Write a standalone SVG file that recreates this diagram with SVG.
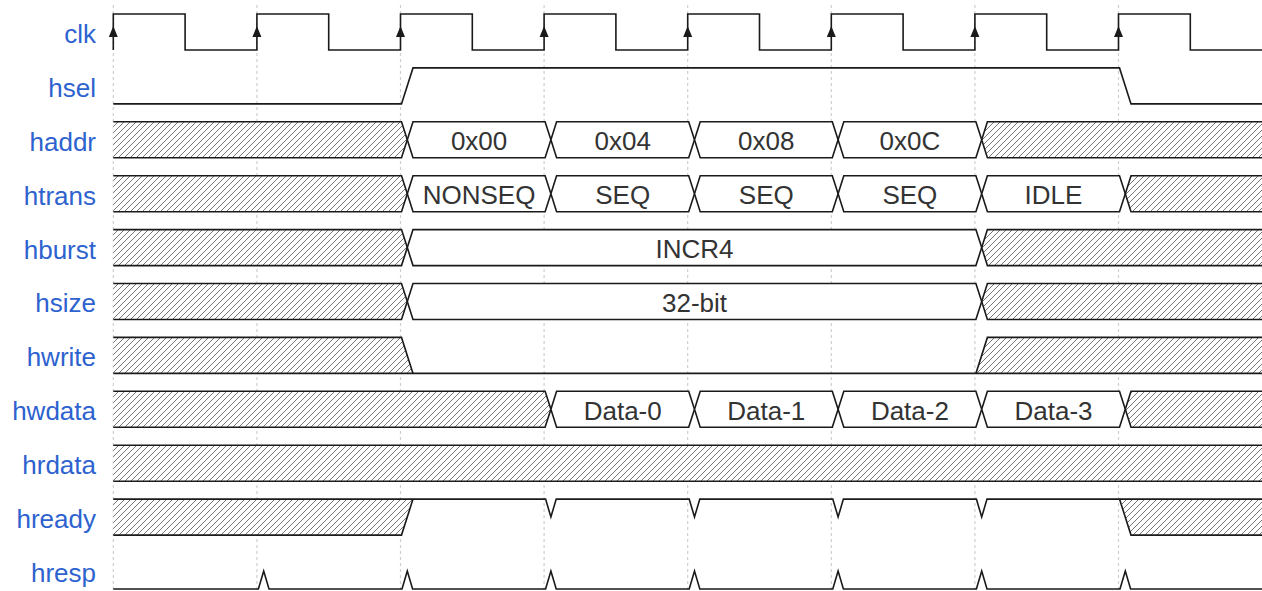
<svg xmlns="http://www.w3.org/2000/svg" width="1262" height="591" viewBox="0 0 1262 591">
<style>
.w{fill:none;stroke:#1a1a1a;stroke-width:1.6;stroke-linejoin:miter}
.b{fill:#fff;stroke:#1a1a1a;stroke-width:1.6}
.h{fill:url(#hatch);stroke:none}
.g{stroke:#cfcfcf;stroke-width:1.2;stroke-dasharray:3,3}
.lbl{font-family:"Liberation Sans",Arial,sans-serif;font-size:26px;fill:#2d62cf;text-anchor:end}
.val{font-family:"Liberation Sans",Arial,sans-serif;font-size:26px;fill:#333;text-anchor:middle}
.ar{fill:#1a1a1a}
</style>
<defs>
<pattern id="hatch" patternUnits="userSpaceOnUse" width="6" height="6">
<rect width="6" height="6" fill="#fff"/>
<path d="M-1,1 L1,-1 M0,6 L6,0 M5,7 L7,5" stroke="#666" stroke-width="0.9"/>
</pattern>
</defs>
<rect width="1262" height="591" fill="#fff"/>
<g id="grid">
<line class="g" x1="113.3" y1="5" x2="113.3" y2="591"/>
<line class="g" x1="256.9" y1="5" x2="256.9" y2="591"/>
<line class="g" x1="400.5" y1="5" x2="400.5" y2="591"/>
<line class="g" x1="544.1" y1="5" x2="544.1" y2="591"/>
<line class="g" x1="687.7" y1="5" x2="687.7" y2="591"/>
<line class="g" x1="831.3" y1="5" x2="831.3" y2="591"/>
<line class="g" x1="974.9" y1="5" x2="974.9" y2="591"/>
<line class="g" x1="1118.5" y1="5" x2="1118.5" y2="591"/>
</g>
<g id="labels">
<text class="lbl" x="96" y="43">clk</text>
<text class="lbl" x="96" y="96.8">hsel</text>
<text class="lbl" x="96" y="150.7">haddr</text>
<text class="lbl" x="96" y="204.6">htrans</text>
<text class="lbl" x="96" y="258.5">hburst</text>
<text class="lbl" x="96" y="312.4">hsize</text>
<text class="lbl" x="96" y="366.3">hwrite</text>
<text class="lbl" x="96" y="420.2">hwdata</text>
<text class="lbl" x="96" y="474.1">hrdata</text>
<text class="lbl" x="96" y="528">hready</text>
<text class="lbl" x="96" y="581.9">hresp</text>
</g>
<g id="clk">
<path class="w" d="M113.3,50 L113.3,14 L185.1,14 L185.1,50 L256.9,50 L256.9,14 L328.7,14 L328.7,50 L400.5,50 L400.5,14 L472.3,14 L472.3,50 L544.1,50 L544.1,14 L615.9,14 L615.9,50 L687.7,50 L687.7,14 L759.5,14 L759.5,50 L831.3,50 L831.3,14 L903.1,14 L903.1,50 L974.9,50 L974.9,14 L1046.7,14 L1046.7,50 L1118.5,50 L1118.5,14 L1190.3,14 L1190.3,50 L1262,50"/>
<path class="ar" d="M113.3,26 L108.8,37 L117.8,37 Z M256.9,26 L252.4,37 L261.4,37 Z M400.5,26 L396,37 L405,37 Z M544.1,26 L539.6,37 L548.6,37 Z M687.7,26 L683.2,37 L692.2,37 Z M831.3,26 L826.8,37 L835.8,37 Z M974.9,26 L970.4,37 L979.4,37 Z M1118.5,26 L1114,37 L1123,37 Z"/>
</g>
<g id="hsel">
<path class="w" d="M113.3,103.9 L401.5,103.9 L413,67.9 L1119.5,67.9 L1131,103.9 L1262,103.9"/>
</g>
<g id="haddr">
<path class="h" d="M113.3,121.8 L401.5,121.8 L407.3,139.8 L401.5,157.8 L113.3,157.8 Z"/>
<path class="w" d="M113.3,121.8 L401.5,121.8 L407.3,139.8 L401.5,157.8 L113.3,157.8"/>
<path class="b" d="M407.3,139.8 L413,121.8 L545.1,121.8 L550.9,139.8 L545.1,157.8 L413,157.8 Z"/>
<path class="b" d="M550.9,139.8 L556.6,121.8 L688.7,121.8 L694.5,139.8 L688.7,157.8 L556.6,157.8 Z"/>
<path class="b" d="M694.5,139.8 L700.2,121.8 L832.3,121.8 L838.1,139.8 L832.3,157.8 L700.2,157.8 Z"/>
<path class="b" d="M838.1,139.8 L843.8,121.8 L975.9,121.8 L981.7,139.8 L975.9,157.8 L843.8,157.8 Z"/>
<path class="h" d="M1262,121.8 L987.4,121.8 L981.7,139.8 L987.4,157.8 L1262,157.8 Z"/>
<path class="w" d="M1262,121.8 L987.4,121.8 L981.7,139.8 L987.4,157.8 L1262,157.8"/>
<text class="val" x="479.1" y="150.3">0x00</text>
<text class="val" x="622.7" y="150.3">0x04</text>
<text class="val" x="766.3" y="150.3">0x08</text>
<text class="val" x="909.9" y="150.3">0x0C</text>
</g>
<g id="htrans">
<path class="h" d="M113.3,175.7 L401.5,175.7 L407.3,193.7 L401.5,211.7 L113.3,211.7 Z"/>
<path class="w" d="M113.3,175.7 L401.5,175.7 L407.3,193.7 L401.5,211.7 L113.3,211.7"/>
<path class="b" d="M407.3,193.7 L413,175.7 L545.1,175.7 L550.9,193.7 L545.1,211.7 L413,211.7 Z"/>
<path class="b" d="M550.9,193.7 L556.6,175.7 L688.7,175.7 L694.5,193.7 L688.7,211.7 L556.6,211.7 Z"/>
<path class="b" d="M694.5,193.7 L700.2,175.7 L832.3,175.7 L838.1,193.7 L832.3,211.7 L700.2,211.7 Z"/>
<path class="b" d="M838.1,193.7 L843.8,175.7 L975.9,175.7 L981.7,193.7 L975.9,211.7 L843.8,211.7 Z"/>
<path class="b" d="M981.7,193.7 L987.4,175.7 L1119.5,175.7 L1125.3,193.7 L1119.5,211.7 L987.4,211.7 Z"/>
<path class="h" d="M1262,175.7 L1131,175.7 L1125.3,193.7 L1131,211.7 L1262,211.7 Z"/>
<path class="w" d="M1262,175.7 L1131,175.7 L1125.3,193.7 L1131,211.7 L1262,211.7"/>
<text class="val" x="479.1" y="204.2">NONSEQ</text>
<text class="val" x="622.7" y="204.2">SEQ</text>
<text class="val" x="766.3" y="204.2">SEQ</text>
<text class="val" x="909.9" y="204.2">SEQ</text>
<text class="val" x="1053.5" y="204.2">IDLE</text>
</g>
<g id="hburst">
<path class="h" d="M113.3,229.6 L401.5,229.6 L407.3,247.6 L401.5,265.6 L113.3,265.6 Z"/>
<path class="w" d="M113.3,229.6 L401.5,229.6 L407.3,247.6 L401.5,265.6 L113.3,265.6"/>
<path class="b" d="M407.3,247.6 L413,229.6 L975.9,229.6 L981.7,247.6 L975.9,265.6 L413,265.6 Z"/>
<path class="h" d="M1262,229.6 L987.4,229.6 L981.7,247.6 L987.4,265.6 L1262,265.6 Z"/>
<path class="w" d="M1262,229.6 L987.4,229.6 L981.7,247.6 L987.4,265.6 L1262,265.6"/>
<text class="val" x="694.5" y="258.1">INCR4</text>
</g>
<g id="hsize">
<path class="h" d="M113.3,283.5 L401.5,283.5 L407.3,301.5 L401.5,319.5 L113.3,319.5 Z"/>
<path class="w" d="M113.3,283.5 L401.5,283.5 L407.3,301.5 L401.5,319.5 L113.3,319.5"/>
<path class="b" d="M407.3,301.5 L413,283.5 L975.9,283.5 L981.7,301.5 L975.9,319.5 L413,319.5 Z"/>
<path class="h" d="M1262,283.5 L987.4,283.5 L981.7,301.5 L987.4,319.5 L1262,319.5 Z"/>
<path class="w" d="M1262,283.5 L987.4,283.5 L981.7,301.5 L987.4,319.5 L1262,319.5"/>
<text class="val" x="694.5" y="312">32-bit</text>
</g>
<g id="hwrite">
<path class="h" d="M113.3,337.4 L401.5,337.4 L413,373.4 L113.3,373.4 Z"/>
<path class="h" d="M975.9,373.4 L987.4,337.4 L1262,337.4 L1262,373.4 Z"/>
<path class="w" d="M113.3,337.4 L401.5,337.4 L413,373.4"/>
<path class="w" d="M113.3,373.4 L1262,373.4"/>
<path class="w" d="M975.9,373.4 L987.4,337.4 L1262,337.4"/>
</g>
<g id="hwdata">
<path class="h" d="M113.3,391.3 L545.1,391.3 L550.9,409.3 L545.1,427.3 L113.3,427.3 Z"/>
<path class="w" d="M113.3,391.3 L545.1,391.3 L550.9,409.3 L545.1,427.3 L113.3,427.3"/>
<path class="b" d="M550.9,409.3 L556.6,391.3 L688.7,391.3 L694.5,409.3 L688.7,427.3 L556.6,427.3 Z"/>
<path class="b" d="M694.5,409.3 L700.2,391.3 L832.3,391.3 L838.1,409.3 L832.3,427.3 L700.2,427.3 Z"/>
<path class="b" d="M838.1,409.3 L843.8,391.3 L975.9,391.3 L981.7,409.3 L975.9,427.3 L843.8,427.3 Z"/>
<path class="b" d="M981.7,409.3 L987.4,391.3 L1119.5,391.3 L1125.3,409.3 L1119.5,427.3 L987.4,427.3 Z"/>
<path class="h" d="M1262,391.3 L1131,391.3 L1125.3,409.3 L1131,427.3 L1262,427.3 Z"/>
<path class="w" d="M1262,391.3 L1131,391.3 L1125.3,409.3 L1131,427.3 L1262,427.3"/>
<text class="val" x="622.7" y="419.8">Data-0</text>
<text class="val" x="766.3" y="419.8">Data-1</text>
<text class="val" x="909.9" y="419.8">Data-2</text>
<text class="val" x="1053.5" y="419.8">Data-3</text>
</g>
<g id="hrdata">
<rect class="h" x="113.3" y="445.2" width="1148.7" height="36"/>
<path class="w" d="M113.3,445.2 L1262,445.2 M113.3,481.2 L1262,481.2"/>
</g>
<g id="hready">
<path class="h" d="M113.3,499.1 L413,499.1 L401.5,535.1 L113.3,535.1 Z"/>
<path class="h" d="M1119.5,499.1 L1262,499.1 L1262,535.1 L1131,535.1 Z"/>
<path class="w" d="M113.3,535.1 L401.5,535.1 L413,499.1"/>
<path class="w" d="M113.3,499.1 L545.6,499.1 L550.9,517 L556.2,499.1 L689.2,499.1 L694.5,517 L699.8,499.1 L832.8,499.1 L838.1,517 L843.4,499.1 L976.4,499.1 L981.7,517 L987,499.1 L1262,499.1"/>
<path class="w" d="M1119.5,499.1 L1131,535.1 L1262,535.1"/>
</g>
<g id="hresp">
<path class="w" d="M113.3,589 L258.4,589 L263.7,571 L269,589 L402,589 L407.3,571 L412.6,589 L545.6,589 L550.9,571 L556.2,589 L689.2,589 L694.5,571 L699.8,589 L832.8,589 L838.1,571 L843.4,589 L976.4,589 L981.7,571 L987,589 L1120,589 L1125.3,571 L1130.6,589 L1262,589"/>
</g>
</svg>
